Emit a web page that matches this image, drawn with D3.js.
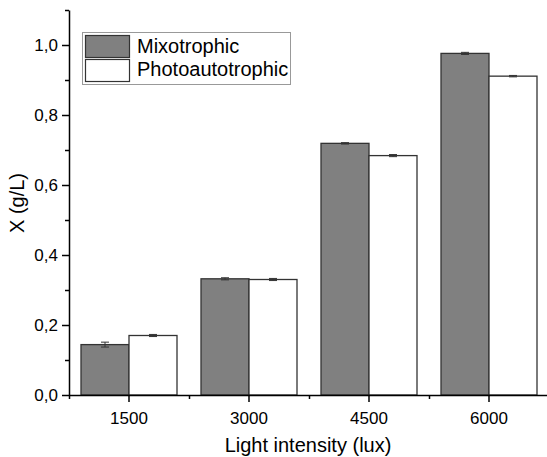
<!DOCTYPE html>
<html>
<head>
<meta charset="utf-8">
<script src="https://cdn.jsdelivr.net/npm/d3@7"></script>
<style>
  html, body { margin: 0; padding: 0; background: #fff; }
  svg { display: block; font-family: "Liberation Sans", Arial, sans-serif; }
  .axis path, .axis line { stroke: #000; stroke-width: 1.5; }
  .axis text { fill: #000; font-size: 17px; }
</style>
</head>
<body>
<div id="chart"></div>
<script>
const categories = ['1500', '3000', '4500', '6000'];
const series = ['Mixotrophic', 'Photoautotrophic'];
const mixoValues = [0.144, 0.332, 0.719, 0.976];
const mixoErrors = [0.007, 0.003, 0.002, 0.003];
const photoValues = [0.170, 0.330, 0.684, 0.911];
const photoErrors = [0.003, 0.003, 0.003, 0.002];
const yMajorTicks = [0, 0.2, 0.4, 0.6, 0.8, 1.0];
const yMinorTicks = [0.1, 0.3, 0.5, 0.7, 0.9, 1.1];

const colors = { Mixotrophic: '#808080', Photoautotrophic: '#ffffff' };

const width = 547, height = 457;
const plotLeft = 69, plotBottom = 395, plotTop = 10, plotRight = 549;

const svg = d3.select('#chart').append('svg')
    .attr('width', width)
    .attr('height', height);

const x = d3.scaleBand().domain(categories).range([plotLeft, plotRight]);
const xs = d3.scaleBand().domain(series).range([0, x.bandwidth()])
    .paddingInner(0).paddingOuter(0.25);
const xMinor = d3.scaleLinear().domain([0, categories.length]).range([plotLeft, plotRight]);
const y = d3.scaleLinear().domain([0, 1.1]).range([plotBottom, plotTop]);

const rows = [];
categories.forEach((c, i) => {
    rows.push({ cat: c, s: 'Mixotrophic', v: mixoValues[i], e: mixoErrors[i] });
    rows.push({ cat: c, s: 'Photoautotrophic', v: photoValues[i], e: photoErrors[i] });
});

// bars
svg.append('g').selectAll('rect').data(rows).enter().append('rect')
    .attr('x', d => x(d.cat) + xs(d.s))
    .attr('y', d => y(d.v))
    .attr('width', xs.bandwidth())
    .attr('height', d => y(0) - y(d.v))
    .attr('fill', d => colors[d.s])
    .attr('stroke', '#333')
    .attr('stroke-width', 1.3);

// error bars
const eb = svg.append('g').attr('stroke', '#333').attr('stroke-width', 1);
rows.forEach(d => {
    const cx = x(d.cat) + xs(d.s) + xs.bandwidth() / 2;
    eb.append('line').attr('x1', cx).attr('x2', cx).attr('y1', y(d.v + d.e)).attr('y2', y(d.v - d.e));
    eb.append('line').attr('x1', cx - 4).attr('x2', cx + 4).attr('y1', y(d.v + d.e)).attr('y2', y(d.v + d.e));
    eb.append('line').attr('x1', cx - 4).attr('x2', cx + 4).attr('y1', y(d.v - d.e)).attr('y2', y(d.v - d.e));
});

// x axis
svg.append('g').attr('class', 'axis').attr('transform', `translate(0,${plotBottom})`)
    .call(d3.axisBottom(xMinor).tickValues(d3.range(categories.length + 1)).tickSize(4).tickSizeOuter(0).tickFormat(''));
svg.append('g').attr('class', 'axis').attr('transform', `translate(0,${plotBottom})`)
    .call(d3.axisBottom(x).tickSize(7).tickSizeOuter(0).tickPadding(10))
    .call(g => g.select('.domain').remove());

// y axis
const fmt = d => d3.format('.1f')(d).replace('.', ',');
svg.append('g').attr('class', 'axis').attr('transform', `translate(${plotLeft},0)`)
    .call(d3.axisLeft(y).tickValues(yMinorTicks).tickSize(4).tickSizeOuter(0).tickFormat(''));
svg.append('g').attr('class', 'axis').attr('transform', `translate(${plotLeft},0)`)
    .call(d3.axisLeft(y).tickValues(yMajorTicks).tickSize(7).tickSizeOuter(0).tickPadding(4).tickFormat(fmt))
    .call(g => g.select('.domain').remove());

// axis titles
svg.append('text')
    .attr('x', (plotLeft + plotRight) / 2 - 1)
    .attr('y', 452)
    .attr('text-anchor', 'middle')
    .attr('font-size', 20)
    .text('Light intensity (lux)');

svg.append('text')
    .attr('transform', 'translate(24,203) rotate(-90)')
    .attr('text-anchor', 'middle')
    .attr('font-size', 20)
    .text('X (g/L)');

// legend
const legend = svg.append('g');
legend.append('rect')
    .attr('x', 82.5).attr('y', 32.5).attr('width', 208).attr('height', 52)
    .attr('fill', '#fff').attr('stroke', '#999').attr('stroke-width', 1);
series.forEach((s, i) => {
    legend.append('rect')
        .attr('x', 85.5).attr('y', 35.5 + i * 24).attr('width', 44).attr('height', 22)
        .attr('fill', colors[s]).attr('stroke', '#333').attr('stroke-width', 1.2);
    legend.append('text')
        .attr('x', 137).attr('y', 52.5 + i * 23)
        .attr('font-size', 20)
        .text(s);
});
</script>
</body>
</html>
